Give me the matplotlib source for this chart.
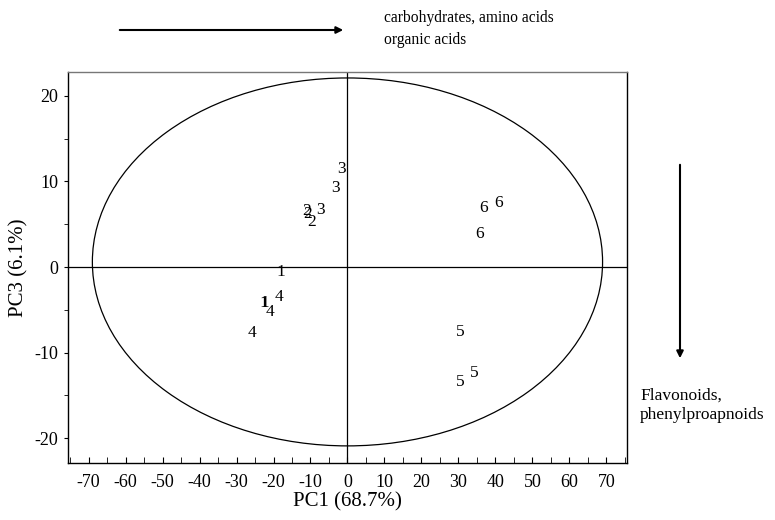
import numpy as np
import matplotlib.pyplot as plt
from matplotlib.patches import Ellipse, FancyArrowPatch

plt.rcParams['font.family'] = ['Liberation Serif', 'DejaVu Serif']
plt.rcParams['axes.unicode_minus'] = False

# PCA scores (PC1, PC3) with group labels
groups = ['1', '1', '1', '2', '2', '2', '3', '3', '3',
          '4', '4', '4', '5', '5', '5', '6', '6', '6']
pc1 = [-18.0, -22.3, -22.6, -11.1, -10.8, -9.8, -1.6, -3.3, -7.3,
       -18.4, -20.9, -25.7, 30.5, 30.5, 34.2, 36.7, 41.0, 35.6]
pc3 = [-0.55, -4.25, -4.15, 6.55, 6.2, 5.3, 11.5, 9.2, 6.7,
       -3.5, -5.2, -7.75, -7.6, -13.4, -12.4, 6.9, 7.5, 3.9]

# Hotelling T2 ellipse
ell_center = (0, 0.6)
ell_a = 69.0
ell_b = 21.5

xticks = np.arange(-70, 71, 10)
yticks = np.arange(-20, 21, 10)

fig = plt.figure(figsize=(7.75, 5.2), dpi=100)
ax = fig.add_axes([0.0877, 0.1096, 0.7213, 0.752])

ax.add_patch(Ellipse(ell_center, 2 * ell_a, 2 * ell_b, fill=False, color='black', lw=0.9))
ax.axhline(0, color='black', lw=0.9)
ax.axvline(0, color='black', lw=0.9)

for g, x, y in zip(groups, pc1, pc3):
    ax.text(x, y, g, ha='center', va='center', fontsize=12.5)

ax.set_xlim(-75.6, 75.6)
ax.set_ylim(-22.9, 22.8)
ax.set_xticks(xticks)
ax.set_xticks(np.arange(-75, 76, 5), minor=True)
ax.set_yticks(yticks)
ax.set_yticks(np.arange(-20, 21, 5), minor=True)
ax.tick_params(axis='x', which='both', direction='in', length=4, labelsize=13, pad=8)
ax.tick_params(axis='y', which='both', direction='out', length=3, labelsize=13, pad=4)
ax.tick_params(which='minor', labelbottom=False, labelleft=False)
ax.spines['top'].set_color('#777777')
for s in ax.spines.values():
    s.set_linewidth(1.0)

ax.set_xlabel('PC1 (68.7%)', fontsize=15, labelpad=1)
ax.set_ylabel('PC3 (6.1%)', fontsize=15, labelpad=4)

# loading direction arrows
fig.add_artist(FancyArrowPatch(
    (117 / 775, 1 - 30 / 520), (346 / 775, 1 - 30 / 520), transform=fig.transFigure,
    arrowstyle='-|>', mutation_scale=10, color='black', lw=1.5))
fig.text(384 / 775, 1 - 29 / 520, 'carbohydrates, amino acids\norganic acids',
         ha='left', va='center', fontsize=11.2, linespacing=1.5)

fig.add_artist(FancyArrowPatch(
    (680 / 775, 1 - 162 / 520), (680 / 775, 1 - 361 / 520), transform=fig.transFigure,
    arrowstyle='-|>', mutation_scale=10, color='black', lw=1.5))
fig.text(640 / 775, 1 - 405 / 520, 'Flavonoids,\nphenylproapnoids',
         ha='left', va='center', fontsize=12.5, linespacing=1.3)

fig.savefig('out.png', dpi=100)
